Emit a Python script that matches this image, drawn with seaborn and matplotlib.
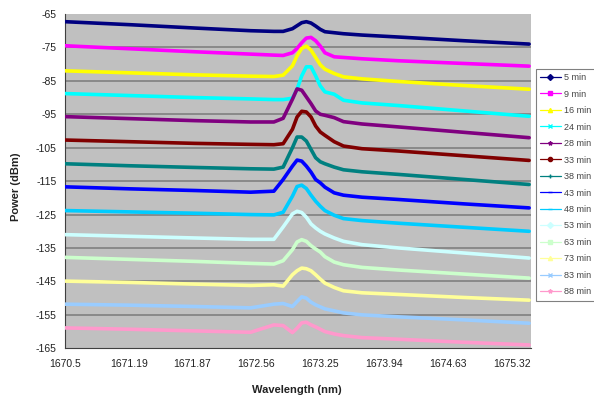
import matplotlib
matplotlib.use("Agg")
import matplotlib.pyplot as plt
from matplotlib.lines import Line2D
import seaborn as sns
import pandas as pd

# ---- data ----
wavelength = [1670.5, 1671.2, 1671.9, 1672.5, 1672.75, 1672.85, 1672.95, 1673.0, 1673.05, 1673.1,
              1673.15, 1673.2, 1673.25, 1673.3, 1673.4, 1673.5, 1673.7, 1674.1, 1674.8, 1675.5]

labels = ["5 min", "9 min", "16 min", "24 min", "28 min", "33 min", "38 min",
          "43 min", "48 min", "53 min", "63 min", "73 min", "83 min", "88 min"]

p05 = [-67.3, -68.2, -69.2, -70.0, -70.2, -70.2, -69.4, -68.5, -67.6, -67.3,
       -67.7, -68.6, -69.6, -70.3, -70.6, -70.9, -71.3, -71.9, -73.0, -74.0]
p09 = [-74.5, -75.4, -76.3, -77.0, -77.3, -77.4, -76.6, -75.3, -73.6, -72.2,
       -72.0, -73.0, -74.6, -76.6, -77.8, -78.0, -78.4, -79.0, -79.8, -80.6]
p16 = [-82.0, -82.6, -83.2, -83.6, -83.7, -83.3, -80.5, -77.5, -75.3, -74.6,
       -75.8, -78.0, -80.2, -81.5, -82.8, -83.8, -84.4, -85.2, -86.4, -87.5]
p24 = [-88.8, -89.4, -90.0, -90.4, -90.6, -90.6, -90.2, -87.5, -83.5, -80.8,
       -80.8, -83.5, -86.5, -88.3, -89.0, -90.8, -91.6, -92.4, -94.0, -95.6]
p28 = [-95.7, -96.3, -96.9, -97.3, -97.3, -96.2, -90.5, -87.4, -87.8, -89.8,
       -91.8, -94.0, -95.0, -95.3, -96.0, -97.2, -97.9, -98.8, -100.4, -102.0]
p33 = [-102.7, -103.2, -103.7, -104.0, -104.1, -103.8, -99.5, -95.8, -94.1, -94.3,
       -95.8, -98.5, -100.3, -101.3, -103.2, -104.5, -105.3, -106.0, -107.4, -108.8]
p38 = [-109.8, -110.4, -110.9, -111.3, -111.4, -110.8, -105.0, -101.8, -101.8, -103.0,
       -105.5, -108.0, -109.2, -109.8, -110.8, -111.6, -112.2, -113.0, -114.5, -116.0]
p43 = [-116.7, -117.3, -117.8, -118.3, -118.0, -114.5, -110.5, -108.7, -109.0, -110.5,
       -112.3, -114.5, -115.5, -116.8, -118.5, -119.2, -119.8, -120.5, -121.8, -123.0]
p48 = [-123.8, -124.2, -124.6, -125.0, -125.1, -124.3, -119.5, -116.6, -116.2, -117.2,
       -119.2, -121.0, -122.5, -123.8, -125.2, -126.2, -126.8, -127.6, -128.8, -130.0]
p53 = [-131.0, -131.5, -132.0, -132.4, -132.4, -128.7, -124.8, -124.0, -124.4, -125.8,
       -127.8, -129.0, -130.0, -130.8, -132.0, -133.0, -134.0, -135.0, -136.5, -138.0]
p63 = [-137.8, -138.4, -139.0, -139.6, -139.8, -138.8, -135.5, -133.2, -132.5, -133.0,
       -134.3, -135.3, -136.2, -137.6, -139.2, -140.0, -140.8, -141.6, -142.8, -144.0]
p73 = [-144.9, -145.3, -145.8, -146.2, -146.0, -146.4, -143.0, -141.8, -141.0, -141.2,
       -141.8, -143.0, -144.3, -145.5, -146.8, -147.8, -148.4, -148.9, -149.8, -150.6]
p83 = [-151.8, -152.1, -152.5, -152.9, -151.8, -151.6, -152.5, -151.0, -149.6, -150.0,
       -151.2, -152.0, -152.6, -153.2, -153.8, -154.4, -155.0, -155.6, -156.5, -157.5]
p88 = [-158.9, -159.3, -159.8, -160.2, -158.0, -158.2, -160.3, -159.0, -157.4, -157.2,
       -158.0, -158.6, -159.3, -160.0, -160.7, -161.2, -161.8, -162.3, -163.2, -164.0]

series = [p05, p09, p16, p24, p28, p33, p38, p43, p48, p53, p63, p73, p83, p88]

xticks = [1670.5, 1671.19, 1671.87, 1672.56, 1673.25, 1673.94, 1674.63, 1675.32]
yticks = [-65, -75, -85, -95, -105, -115, -125, -135, -145, -155, -165]

colors = ["#000080", "#FF00FF", "#FFFF00", "#00FFFF", "#800080", "#800000", "#008080",
          "#0000FF", "#00CCFF", "#CCFFFF", "#CCFFCC", "#FFFF99", "#99CCFF", "#FF99CC"]
markers = ["D", "s", "^", "x", "*", "o", "+", "_", "_", "D", "s", "^", "x", "*"]

rows = []
for lab, vals in zip(labels, series):
    for w, v in zip(wavelength, vals):
        rows.append({"Wavelength": w, "Power": v, "Series": lab})
df = pd.DataFrame(rows)

sns.set_theme(style="white")
plt.rcParams["font.family"] = ["Liberation Sans", "DejaVu Sans"]
plt.rcParams["axes.unicode_minus"] = False

fig = plt.figure(figsize=(5.94, 3.99), dpi=100)
ax = fig.add_axes([65/594, 1-348.3/399, (531-65)/594, (348.3-14)/399])
ax.set_facecolor("#C0C0C0")

for y in yticks[1:-1]:
    ax.axhline(y, color="#7a7a7a", lw=1.1, zorder=1)

sns.lineplot(data=df, x="Wavelength", y="Power", hue="Series", hue_order=labels,
             palette=colors, sort=False, estimator=None, lw=2.6, legend=False,
             ax=ax, zorder=3)

ax.set_xlim(1670.5, 1675.52)
ax.set_ylim(-165, -65)
ax.set_xticks(xticks)
ax.set_xticklabels([f"{t:g}" for t in xticks])
ax.set_yticks(yticks)
ax.tick_params(axis="both", direction="out", length=3, width=0.8, color="#404040",
               labelsize=7.5, labelcolor="#222222", pad=2)
ax.tick_params(axis="x", pad=5)
ax.tick_params(axis="y", pad=3)
for s in ["top", "right"]:
    ax.spines[s].set_visible(False)
for s in ["left", "bottom"]:
    ax.spines[s].set_color("#404040")
    ax.spines[s].set_linewidth(0.8)

ax.set_xlabel("Wavelength (nm)", fontsize=8, fontweight="bold", color="#222222")
ax.set_ylabel("Power (dBm)", fontsize=8, fontweight="bold", color="#222222")
ax.xaxis.set_label_coords((297-65)/466, (348.3-385)/334.3)
ax.yaxis.set_label_coords((21-65)/466, (348.3-187)/334.3)

handles = [Line2D([0], [0], color=c, lw=0.9, marker=m, markersize=3,
                  markerfacecolor=c, markeredgecolor=c)
           for c, m in zip(colors, markers)]
leg = fig.legend(handles, labels, loc="upper left", bbox_to_anchor=(536/594, 1-69/399),
                 bbox_transform=fig.transFigure, frameon=True, fancybox=False,
                 fontsize=6.5, labelspacing=0.83, handlelength=2.3, handletextpad=0.3,
                 borderpad=0.45, borderaxespad=0)
leg.get_frame().set_edgecolor("#606060")
leg.get_frame().set_linewidth(0.8)
for t in leg.get_texts():
    t.set_color("#444444")

fig.savefig("out.png", dpi=100)
